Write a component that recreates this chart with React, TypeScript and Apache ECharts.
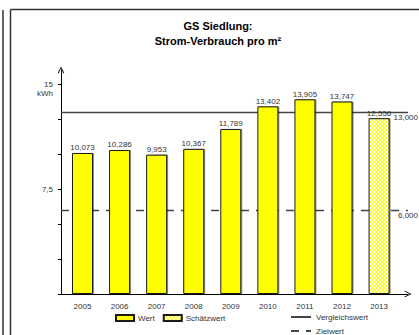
import React, { useEffect, useRef } from "react";
import * as echarts from "echarts";

const years = [2005, 2006, 2007, 2008, 2009, 2010, 2011, 2012, 2013];
const wert = [10.073, 10.286, 9.953, 10.367, 11.789, 13.402, 13.905, 13.747, null];
const schaetzwert = [null, null, null, null, null, null, null, null, 12.556];
const vergleichswert = 13;
const zielwert = 6;
const yTickValues = [0, 2.5, 5, 7.5, 10, 12.5, 15];
const yLabelValues = [7.5, 15];
const yLabelTexts: Record<string, string> = { "7.5": "7,5", "15": "15" };

const FONT = "'Liberation Sans', Arial, sans-serif";
const fmt3 = (v: number) => v.toFixed(3).replace(".", ",");
const chevron = "path://M0,10 L5,0 L10,10 L8.8,10.6 L5,2.6 L1.2,10.6 Z";

export default function App() {
  const ref = useRef<HTMLDivElement>(null);
  useEffect(() => {
    if (!ref.current) return;
    const chart = echarts.init(ref.current, undefined, { renderer: "svg" });

    const c = document.createElement("canvas");
    c.width = 4;
    c.height = 4;
    const ctx = c.getContext("2d")!;
    ctx.fillStyle = "#ffffff";
    ctx.fillRect(0, 0, 4, 4);
    ctx.fillStyle = "#ffff00";
    for (let i = 0; i < 4; i++) {
      ctx.fillRect(i, i, 1, 1);
      ctx.fillRect(3 - i, i, 1, 1);
    }
    const pattern = { image: c, repeat: "repeat" };

    const barStyle = {
      borderColor: "#1a1a1a",
      borderWidth: 1,
      shadowColor: "rgba(0,0,0,0.45)",
      shadowOffsetX: 1,
      shadowOffsetY: 0,
      shadowBlur: 0,
    };
    const barLabel = {
      show: true,
      position: "top",
      distance: 1,
      fontSize: 8,
      fontFamily: FONT,
      color: "#333",
      formatter: (p: any) => fmt3(p.value[1]),
    };
    const lineLegend = {
      left: 290,
      itemWidth: 20,
      itemHeight: 8,
      padding: 0,
      itemStyle: { opacity: 0, borderWidth: 0 },
      textStyle: { fontSize: 8, color: "#333", fontFamily: FONT },
    };

    chart.setOption({
      animation: false,
      textStyle: { fontFamily: FONT },
      grid: { left: 61, right: 11, top: 70, bottom: 41, containLabel: false },
      legend: [
        {
          data: ["Wert", "Schätzwert"],
          left: 115,
          top: 314,
          orient: "horizontal",
          itemWidth: 18,
          itemHeight: 6,
          itemGap: 8,
          icon: "rect",
          padding: 0,
          textStyle: { fontSize: 8, color: "#333", fontFamily: FONT, padding: [0, 0, 0, -1] },
        },
        { ...lineLegend, data: ["Vergleichswert"], top: 313 },
        { ...lineLegend, data: ["Zielwert"], top: 327 },
      ],
      xAxis: {
        type: "value",
        min: 2004.42,
        max: 2013.78,
        splitLine: { show: false },
        axisLine: {
          show: true,
          lineStyle: { color: "#000", width: 1 },
          symbol: ["none", chevron],
          symbolSize: [8, 7],
          symbolOffset: [0, 0],
        },
        axisTick: { show: false },
        axisLabel: {
          customValues: years,
          formatter: (v: number) => String(Math.round(v)),
          fontSize: 8,
          color: "#333",
          margin: 8,
          fontFamily: FONT,
        },
      },
      yAxis: {
        type: "value",
        min: 0,
        max: 16,
        splitLine: { show: false },
        axisLine: {
          show: true,
          lineStyle: { color: "#000", width: 1 },
          symbol: ["none", chevron],
          symbolSize: [8, 7],
        },
        axisTick: { show: true, customValues: yTickValues, length: 3, lineStyle: { color: "#000" } },
        axisLabel: {
          customValues: yLabelValues,
          formatter: (v: number) => yLabelTexts[String(v)] ?? String(v),
          fontSize: 8,
          color: "#333",
          margin: 8,
          fontFamily: FONT,
        },
      },
      series: [
        {
          name: "Vergleichswert",
          type: "line",
          z: 1,
          symbol: "none",
          data: [],
          lineStyle: { color: "#444", width: 1.3, type: "solid" },
          itemStyle: { color: "#444" },
          markLine: {
            silent: true,
            z: 1,
            symbol: ["none", "none"],
            lineStyle: { color: "#444", width: 1.3, type: "solid" },
            label: {
              show: true,
              position: "insideEndBottom",
              distance: [-10, 1],
              fontSize: 8,
              color: "#333",
              fontFamily: FONT,
              formatter: () => fmt3(vergleichswert),
            },
            data: [{ yAxis: vergleichswert }],
          },
        },
        {
          name: "Zielwert",
          type: "line",
          z: 1,
          symbol: "none",
          data: [],
          lineStyle: { color: "#444", width: 1.3, type: [8, 7] },
          itemStyle: { color: "#444" },
          markLine: {
            silent: true,
            z: 1,
            symbol: ["none", "none"],
            lineStyle: { color: "#444", width: 1.3, type: [8, 7] },
            label: {
              show: true,
              position: "insideEndBottom",
              distance: [-10, 1],
              fontSize: 8,
              color: "#333",
              fontFamily: FONT,
              formatter: () => fmt3(zielwert),
            },
            data: [{ yAxis: zielwert }],
          },
        },
        {
          name: "Wert",
          type: "bar",
          z: 3,
          barWidth: 21,
          barGap: "-100%",
          itemStyle: { color: "#ffff00", ...barStyle },
          label: barLabel,
          data: years.map((y, i) => (wert[i] == null ? null : [y, wert[i]])).filter((d) => d),
        },
        {
          name: "Schätzwert",
          type: "bar",
          z: 3,
          barWidth: 21,
          barGap: "-100%",
          itemStyle: { color: pattern, ...barStyle },
          label: barLabel,
          data: years.map((y, i) => (schaetzwert[i] == null ? null : [y, schaetzwert[i]])).filter((d) => d),
        },
      ],
      graphic: [
        { type: "line", shape: { x1: 3, y1: 10, x2: 3, y2: 335 }, style: { stroke: "#333", lineWidth: 1.5 }, silent: true },
        { type: "line", shape: { x1: 10.5, y1: 9.5, x2: 419, y2: 9.5 }, style: { stroke: "#333", lineWidth: 1.5 }, silent: true },
        { type: "line", shape: { x1: 10.5, y1: 9.5, x2: 10.5, y2: 335 }, style: { stroke: "#333", lineWidth: 1.5 }, silent: true },
        {
          type: "text",
          x: 218,
          y: 18,
          style: {
            text: "GS Siedlung:\nStrom-Verbrauch pro m²",
            fontSize: 11,
            fontWeight: "bold",
            lineHeight: 15,
            fill: "#000",
            align: "center",
            verticalAlign: "top",
            fontFamily: FONT,
          },
          silent: true,
        },
        {
          type: "text",
          x: 53,
          y: 93,
          style: { text: "kWh", fontSize: 8, fill: "#333", align: "right", verticalAlign: "middle", fontFamily: FONT },
          silent: true,
        },
      ],
    });
    return () => chart.dispose();
  }, []);
  return (
    <div
      ref={ref}
      style={{ position: "absolute", left: 0, top: 0, width: 419, height: 335, background: "#fff" }}
    />
  );
}
